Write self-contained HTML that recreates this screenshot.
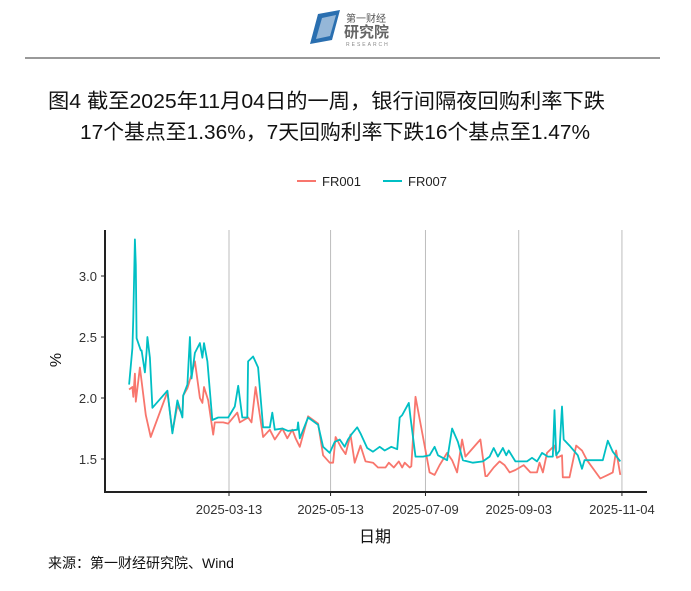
<!DOCTYPE html>
<html><head><meta charset="utf-8"><style>
body{margin:0;width:691px;height:591px;background:#fff;overflow:hidden;font-family:"Liberation Sans","Noto Sans CJK SC",sans-serif;}
</style></head><body>
<svg id="c" width="691" height="591" style="position:absolute;left:0;top:0" font-family="Liberation Sans, Noto Sans CJK SC, sans-serif">
 <g>
  <path d="M318 14 L340 10 L332 40 L310 44 Z" fill="#2a6fb0"/>
  <path d="M322 18 L336 15 L330 36 L316 39 Z" fill="#fff" opacity="0.5"/>
  <text x="346" y="22" font-size="10" fill="#555">第一财经</text>
  <text x="344" y="37" font-size="15" fill="#666" font-weight="bold">研究院</text>
  <text x="346" y="46" font-size="5" fill="#888" letter-spacing="2">RESEARCH</text>
 </g>
 <line x1="25" y1="58" x2="660" y2="58" stroke="#333" stroke-width="1"/>
 <text x="48" y="108" font-size="20.5" fill="#111" textLength="557" lengthAdjust="spacingAndGlyphs">图4  截至2025年11月04日的一周，银行间隔夜回购利率下跌</text>
 <text x="80" y="139" font-size="20.5" fill="#111" textLength="510" lengthAdjust="spacingAndGlyphs">17个基点至1.36%，7天回购利率下跌16个基点至1.47%</text>
 <g>
  <line x1="297" y1="181" x2="316" y2="181" stroke="#F8766D" stroke-width="2"/>
  <text x="322" y="186" font-size="13" fill="#222">FR001</text>
  <line x1="383" y1="181" x2="402" y2="181" stroke="#00BFC4" stroke-width="2"/>
  <text x="408" y="186" font-size="13" fill="#222">FR007</text>
 </g>
 <g id="grid"></g>
 <g id="series"></g>
 <g id="axes"></g>
 <text x="375" y="542" font-size="16" fill="#111" text-anchor="middle">日期</text>
 <text transform="translate(61,360) rotate(-90)" font-size="16" fill="#111" text-anchor="middle">%</text>
 <text x="48" y="568" font-size="14" fill="#111">来源：第一财经研究院、Wind</text>
</svg>
<script>
// day index: days since 2025-01-01
const xTickDays=[71,132,189,245,307];
const xTickLabels=["2025-03-13","2025-05-13","2025-07-09","2025-09-03","2025-11-04"];
const yTicks=[1.5,2.0,2.5,3.0];
const yTickLabels=["1.5","2.0","2.5","3.0"];
const fr007Days=[11,13,13.5,14.5,15,15.5,18,18.5,20.5,21.5,22,23.5,25,34,37,40,43,43.5,46,47.5,48.5,50.5,53.5,55,56,58,61,64.5,70.5,74.5,76.5,79,82,82.5,85.5,88.5,91.5,95.5,97,98.5,103,106.5,112,112.5,113.5,118.5,124.5,127.5,131.5,134.5,137.5,140.5,142.5,145,148,150,154,157.5,161.5,164.5,168.5,172,173.5,175,179,180,183,187.5,191.5,194.5,196.5,202,205,208.5,211.5,217.5,223.5,227.5,230,232.5,235.5,237.5,239,243,250,253,256,259,262.5,265.5,266.5,267.5,269.5,271,272,275.5,280.5,283,284.5,295.5,298.5,301.5,306];
const fr007Vals=[2.11,2.41,2.66,3.30,3.09,2.49,2.39,2.39,2.21,2.38,2.50,2.33,1.92,2.06,1.71,1.98,1.84,2.02,2.11,2.50,2.16,2.37,2.45,2.33,2.45,2.30,1.82,1.84,1.84,1.93,2.10,1.84,1.84,2.30,2.34,2.25,1.76,1.76,1.88,1.74,1.75,1.73,1.74,1.80,1.67,1.84,1.78,1.60,1.55,1.64,1.66,1.60,1.66,1.71,1.76,1.71,1.59,1.56,1.60,1.57,1.60,1.58,1.84,1.86,1.96,1.84,1.52,1.52,1.53,1.60,1.53,1.49,1.75,1.64,1.49,1.47,1.48,1.52,1.59,1.52,1.59,1.53,1.57,1.48,1.48,1.51,1.48,1.55,1.52,1.52,1.90,1.53,1.57,1.93,1.66,1.61,1.53,1.42,1.49,1.49,1.65,1.56,1.48];
const fr001Days=[11,13,13.5,14.5,15,17.5,21,24,34,37,40,43,43.5,46,48,50.5,53.5,55,56,58.5,61.5,62.5,67.5,70.5,76,77.5,82.5,84.5,87,91.5,95.5,98.5,103,106,109,111,113.5,118.5,124.5,127.5,131.5,133.5,135,138.5,141,144,146.5,150,153,157.5,160.5,165,167,170,173,175,176.5,179.5,180.5,183,187.5,191.5,194.5,197.5,202,205,208,211,213,222,225,226,230,233.5,236.5,239.5,243,248,252,256,257.5,259.5,262,266.5,268,271,271.5,275.5,279.5,283,286,294,298.5,301.5,303.5,306];
const fr001Vals=[2.07,2.09,2.01,2.20,1.97,2.25,1.86,1.68,2.05,1.72,1.94,1.86,2.02,2.08,2.17,2.30,2.00,1.96,2.09,1.98,1.70,1.80,1.80,1.79,1.88,1.80,1.84,1.80,2.09,1.68,1.74,1.66,1.75,1.67,1.74,1.67,1.60,1.85,1.79,1.53,1.47,1.47,1.68,1.59,1.54,1.70,1.47,1.61,1.48,1.47,1.43,1.43,1.47,1.43,1.48,1.43,1.47,1.43,1.44,2.01,1.68,1.39,1.37,1.45,1.55,1.49,1.39,1.66,1.52,1.66,1.36,1.36,1.43,1.48,1.45,1.39,1.41,1.45,1.39,1.39,1.47,1.39,1.55,1.61,1.51,1.53,1.35,1.35,1.61,1.57,1.49,1.34,1.37,1.39,1.57,1.37,1.45,1.37];
const NS="http://www.w3.org/2000/svg";
function xS(d){return 229+(d-71)*1.665;}
function yS(v){return 459-(v-1.5)*122;}
function mk(tag,attrs,parent){const e=document.createElementNS(NS,tag);for(const k in attrs)e.setAttribute(k,attrs[k]);parent.appendChild(e);return e;}
const grid=document.getElementById('grid'),axes=document.getElementById('axes'),ser=document.getElementById('series');
xTickDays.forEach((d,i)=>{
 const g=mk('line',{x1:xS(d),x2:xS(d),y1:230,y2:492,stroke:'#bdbdbd','stroke-width':1},grid);
 
 
 const t=mk('line',{x1:xS(d),x2:xS(d),y1:492,y2:496,stroke:'#222','stroke-width':1},axes);
 
 
 const l=mk('text',{x:xS(d),y:514,'font-size':13,fill:'#333','text-anchor':'middle'},axes);
 l.textContent=xTickLabels[i];
 
 
});
yTicks.forEach((v,i)=>{
 const t=mk('line',{x1:101,x2:105,y1:yS(v),y2:yS(v),stroke:'#222','stroke-width':1},axes);
 
 
 const l=mk('text',{x:97,y:yS(v)+5,'font-size':13,fill:'#333','text-anchor':'end'},axes);
 l.textContent=yTickLabels[i];
 
 
});
const ya=mk('line',{x1:105,x2:105,y1:230,y2:493,stroke:'#222','stroke-width':2},axes);


const xa=mk('line',{x1:104,x2:647,y1:492,y2:492,stroke:'#222','stroke-width':2},axes);


function path(days,vals,color,name){
 const d=days.map((x,i)=>(i?'L':'M')+xS(x).toFixed(1)+' '+yS(vals[i]).toFixed(1)).join(' ');
 const p=mk('path',{d:d,fill:'none',stroke:color,'stroke-width':1.8,'stroke-linejoin':'round'},ser);
 
 
}
path(fr001Days,fr001Vals,'#F8766D','fr001-line');
path(fr007Days,fr007Vals,'#00BFC4','fr007-line');
</script>
</body></html>
